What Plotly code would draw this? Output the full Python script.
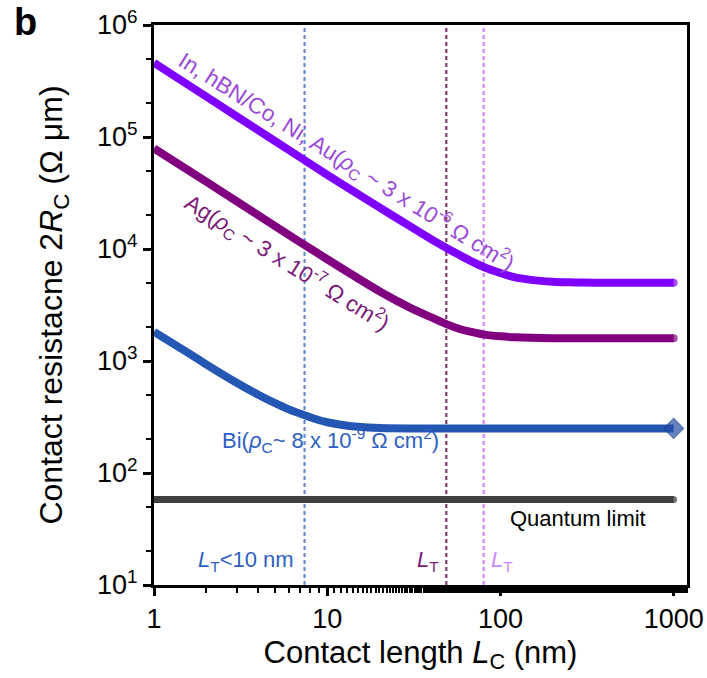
import math
import plotly.graph_objects as go

# ---- data ----
lc_in = [1, 2, 5, 10, 20, 30, 40, 50, 60, 70, 80, 100, 120, 150, 200, 250, 300, 400, 500, 1000]
r_in = [4.6e5, 2.3e5, 9.2e4, 4.6e4, 2.35e4, 1.6e4, 1.22e4, 1.0e4, 8.6e3, 7.6e3, 6.9e3, 6.1e3, 5.6e3, 5.3e3, 5.1e3, 5.04e3, 5.02e3, 5.0e3, 5.0e3, 5.0e3]
lc_ag = [1, 2, 5, 10, 20, 30, 40, 50, 60, 70, 80, 100, 120, 150, 200, 300, 1000]
r_ag = [7.9e4, 4.0e4, 1.6e4, 8.1e3, 4.2e3, 3.0e3, 2.45e3, 2.1e3, 1.9e3, 1.8e3, 1.72e3, 1.66e3, 1.63e3, 1.61e3, 1.6e3, 1.6e3, 1.6e3]
lc_bi = [1, 1.5, 2, 3, 4, 5, 6, 7.4, 9, 10, 12, 15, 20, 30, 50, 1000]
r_bi = [1.82e3, 1.24e3, 935, 640, 500, 420, 370, 328, 296, 284, 270, 259, 252, 250, 250, 250]
q_x = [1, 1000]
q_y = [58, 58]
lt_bi, lt_ag, lt_in = 7.4, 48.7, 80
x_ticks = [1, 10, 100, 1000]
x_ticktext = ["1", "10", "100", "1000"]
y_ticks = [1e1, 1e2, 1e3, 1e4, 1e5, 1e6]
y_ticktext = ["10<sup>1</sup>", "10<sup>2</sup>", "10<sup>3</sup>", "10<sup>4</sup>", "10<sup>5</sup>", "10<sup>6</sup>"]

C_IN, C_AG, C_BI, C_Q = "#8000FF", "#800080", "#2456B4", "#404040"
T_IN, T_AG, T_BI = "#9A4AD8", "#7A1A78", "#2F5FC2"
D_BI, D_AG, D_IN = "#6C8BD4", "#7B3A6E", "#CC88FF"

FONT = "Liberation Sans, Arial, sans-serif"

fig = go.Figure()

# dashed vertical L_T lines
for xv, col in [(lt_bi, D_BI), (lt_ag, D_AG), (lt_in, D_IN)]:
    fig.add_trace(go.Scatter(x=[xv, xv], y=[10, 1e6], mode="lines",
                             line=dict(color=col, width=2.2, dash="4px,3px"),
                             hoverinfo="skip", showlegend=False))

def endcap(n, s):
    return [0] * (n - 1) + [s]

fig.add_trace(go.Scatter(x=q_x, y=q_y, mode="lines+markers",
                         line=dict(color=C_Q, width=7),
                         marker=dict(size=endcap(2, 7), color=C_Q, line=dict(width=0)),
                         showlegend=False))
fig.add_trace(go.Scatter(x=lc_bi, y=r_bi, mode="lines+markers",
                         line=dict(color=C_BI, width=8, shape="spline", smoothing=0.6),
                         marker=dict(symbol="diamond", size=endcap(len(lc_bi), 15), color="#2350A6",
                                     line=dict(color="#1C3F8C", width=1.5)),
                         showlegend=False))
fig.add_trace(go.Scatter(x=lc_ag, y=r_ag, mode="lines+markers",
                         line=dict(color=C_AG, width=8, shape="spline", smoothing=0.6),
                         marker=dict(size=endcap(len(lc_ag), 8), color=C_AG, line=dict(width=0)),
                         showlegend=False))
fig.add_trace(go.Scatter(x=lc_in, y=r_in, mode="lines+markers",
                         line=dict(color=C_IN, width=8, shape="spline", smoothing=0.6),
                         marker=dict(size=endcap(len(lc_in), 8), color=C_IN, line=dict(width=0)),
                         showlegend=False))

ann = [
    dict(x=12.9, y=6.0e4, text="In, hBN/Co, Ni, Au(<i>ρ</i><sub>C</sub> ~ 3 x 10<sup>-6</sup> Ω cm<sup>2</sup>)",
         font=dict(color=T_IN, size=22.5), textangle=32),
    dict(x=5.87, y=7.5e3, text="Ag(<i>ρ</i><sub>C</sub> ~ 3 x 10<sup>-7</sup> Ω cm<sup>2</sup>)",
         font=dict(color=T_AG, size=22.5), textangle=32),
    dict(x=10.4, y=197, text="Bi(<i>ρ</i><sub>C</sub>~ 8 x 10<sup>-9</sup> Ω cm<sup>2</sup>)",
         font=dict(color=T_BI, size=22)),
    dict(x=279, y=39.6, text="Quantum limit", font=dict(color="black", size=22)),
    dict(x=6.6, y=16.4, text="<i>L</i><sub>T</sub><10 nm", font=dict(color=T_BI, size=22), xanchor="right"),
    dict(x=45.5, y=16.4, text="<i>L</i><sub>T</sub>", font=dict(color=T_AG, size=22), xanchor="right"),
    dict(x=86, y=16.4, text="<i>L</i><sub>T</sub>", font=dict(color=D_IN, size=22), xanchor="left"),
]
for a in ann:
    a.setdefault("xanchor", "center")
    fig.add_annotation(xref="x", yref="y", x=math.log10(a.pop("x")),
                       y=math.log10(a.pop("y")), showarrow=False,
                       yanchor="middle", **a)

fig.add_annotation(xref="paper", yref="paper", x=-0.267, y=1.005, xanchor="left", yanchor="middle",
                   text="<b>b</b>", showarrow=False, font=dict(size=38, color="black"))

fig.update_layout(
    width=707, height=678,
    margin=dict(l=154, r=20, t=25, b=93),
    plot_bgcolor="white", paper_bgcolor="white",
    font=dict(family=FONT, color="black"),
    xaxis=dict(type="log", range=[0, 3.077], tickvals=x_ticks, ticktext=x_ticktext,
               automargin=False,
               showgrid=False, zeroline=False, showline=True, mirror=True,
               linecolor="black", linewidth=3, ticks="outside", ticklen=8, tickwidth=3,
               tickcolor="black", tickfont=dict(size=27),
               minor=dict(ticks="outside", ticklen=5, tickwidth=2, tickcolor="black", showgrid=False),
               title=dict(text="Contact length <i>L</i><sub>C</sub> (nm)", font=dict(size=31), standoff=8)),
    yaxis=dict(type="log", range=[1, 6], tickvals=y_ticks, ticktext=y_ticktext,
               automargin=False,
               showgrid=False, zeroline=False, showline=True, mirror=True,
               linecolor="black", linewidth=3, ticks="outside", ticklen=8, tickwidth=3,
               tickcolor="black", tickfont=dict(size=27),
               minor=dict(ticks="outside", ticklen=5, tickwidth=2, tickcolor="black", showgrid=False),
               title=dict(text="Contact resistacne 2<i>R</i><sub>C</sub> (Ω μm)", font=dict(size=32), standoff=25)),
)

fig.write_html("out.html")
